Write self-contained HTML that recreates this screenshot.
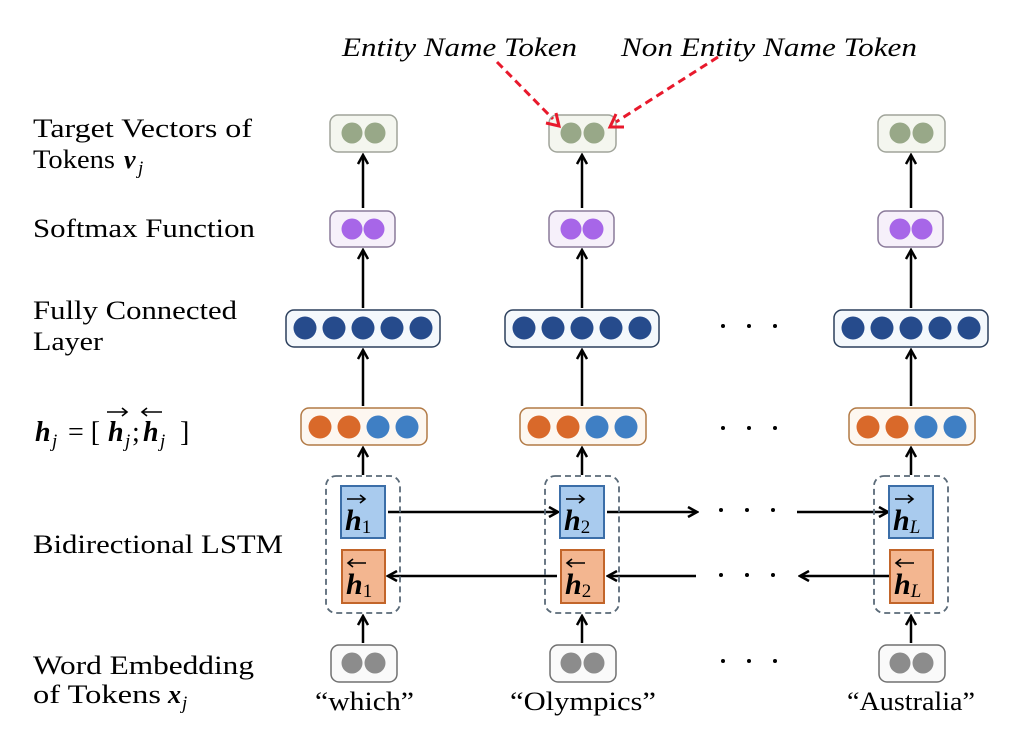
<!DOCTYPE html>
<html><head><meta charset="utf-8"><style>body{margin:0;background:#fff}svg{display:block}</style></head><body>
<svg width="1018" height="750" viewBox="0 0 1018 750" xmlns="http://www.w3.org/2000/svg" font-family="Liberation Serif, serif">
<defs>
<marker id="a" markerWidth="12" markerHeight="12" refX="10" refY="6" orient="auto" markerUnits="userSpaceOnUse"><path d="M1,1 L10,6 L1,11" fill="none" stroke="#000" stroke-width="2.5"/></marker>
<g id="d" fill="#000"><circle cx="723" cy="0" r="2"/><circle cx="749" cy="0" r="2"/><circle cx="775" cy="0" r="2"/></g>
</defs>
<g font-size="26" fill="#000">
<text x="33" y="137" textLength="219" lengthAdjust="spacingAndGlyphs">Target Vectors of</text>
<text x="33" y="168" textLength="82" lengthAdjust="spacingAndGlyphs">Tokens</text>
<text x="124" y="168" font-weight="bold" font-style="italic">v</text><text x="138" y="174" font-style="italic" font-size="19">j</text>
<text x="33" y="237" textLength="222" lengthAdjust="spacingAndGlyphs">Softmax Function</text>
<text x="33" y="319" textLength="204" lengthAdjust="spacingAndGlyphs">Fully Connected</text>
<text x="33" y="350" textLength="70" lengthAdjust="spacingAndGlyphs">Layer</text>
<text x="33" y="553" textLength="250" lengthAdjust="spacingAndGlyphs">Bidirectional LSTM</text>
<text x="33" y="674" textLength="221" lengthAdjust="spacingAndGlyphs">Word Embedding</text>
<text x="33" y="703" textLength="128" lengthAdjust="spacingAndGlyphs">of Tokens</text>
<text x="168" y="703" font-weight="bold" font-style="italic">x</text><text x="182" y="709" font-style="italic" font-size="19">j</text>
<text x="342" y="56" font-style="italic" textLength="235" lengthAdjust="spacingAndGlyphs">Entity Name Token</text>
<text x="621" y="56" font-style="italic" textLength="296" lengthAdjust="spacingAndGlyphs">Non Entity Name Token</text>
<text x="315" y="710" textLength="99" lengthAdjust="spacingAndGlyphs">“which”</text>
<text x="510" y="710" textLength="146" lengthAdjust="spacingAndGlyphs">“Olympics”</text>
<text x="847" y="710" textLength="128" lengthAdjust="spacingAndGlyphs">“Australia”</text>
</g>
<g font-size="28" fill="#000">
<text x="35" y="441" font-weight="bold" font-style="italic">h</text>
<text x="52" y="447" font-style="italic" font-size="19">j</text>
<text x="68" y="441">= [</text>
<text x="108" y="441" font-weight="bold" font-style="italic">h</text>
<text x="125" y="447" font-style="italic" font-size="19">j</text>
<text x="132" y="441">;</text>
<text x="143" y="441" font-weight="bold" font-style="italic">h</text>
<text x="160" y="447" font-style="italic" font-size="19">j</text>
<text x="180" y="441">]</text>
</g>
<g stroke="#000" stroke-width="1.6" fill="none">
<path d="M107 412 h20 M122 408 l5 4 -5 4"/>
<path d="M142 412 h20 M147 408 l-5 4 5 4"/>
</g>
<use href="#d" y="326"/><use href="#d" y="428"/><use href="#d" x="-2" y="510"/><use href="#d" x="-2" y="575"/><use href="#d" y="661"/>
<g stroke-width="2.5" stroke="#000" fill="none">
<line x1="363" y1="208" x2="363" y2="155" marker-end="url(#a)"/>
<line x1="582" y1="208" x2="582" y2="155" marker-end="url(#a)"/>
<line x1="911" y1="208" x2="911" y2="155" marker-end="url(#a)"/>
<line x1="363" y1="308" x2="363" y2="250" marker-end="url(#a)"/>
<line x1="582" y1="308" x2="582" y2="250" marker-end="url(#a)"/>
<line x1="911" y1="308" x2="911" y2="250" marker-end="url(#a)"/>
<line x1="363" y1="406" x2="363" y2="350" marker-end="url(#a)"/>
<line x1="582" y1="406" x2="582" y2="350" marker-end="url(#a)"/>
<line x1="911" y1="406" x2="911" y2="350" marker-end="url(#a)"/>
<line x1="363" y1="475" x2="363" y2="448" marker-end="url(#a)"/>
<line x1="582" y1="475" x2="582" y2="448" marker-end="url(#a)"/>
<line x1="911" y1="475" x2="911" y2="448" marker-end="url(#a)"/>
<line x1="363" y1="643" x2="363" y2="616" marker-end="url(#a)"/>
<line x1="582" y1="643" x2="582" y2="616" marker-end="url(#a)"/>
<line x1="911" y1="643" x2="911" y2="616" marker-end="url(#a)"/>
<line x1="388" y1="512" x2="558" y2="512" marker-end="url(#a)"/>
<line x1="607" y1="512" x2="697" y2="512" marker-end="url(#a)"/>
<line x1="797" y1="512" x2="888" y2="512" marker-end="url(#a)"/>
<line x1="557" y1="576" x2="388" y2="576" marker-end="url(#a)"/>
<line x1="696" y1="576" x2="608" y2="576" marker-end="url(#a)"/>
<line x1="889" y1="576" x2="800" y2="576" marker-end="url(#a)"/>
</g>
<g>
<rect x="330" y="115" width="67" height="37" rx="8" fill="#f4f6ef" stroke="#a0a49a" stroke-width="1.5"/>
<circle cx="352" cy="133" r="10.5" fill="#98a888"/><circle cx="375" cy="133" r="10.5" fill="#98a888"/>
<rect x="330" y="211" width="65" height="36" rx="8" fill="#f6f0fa" stroke="#8a7a9a" stroke-width="1.5"/>
<circle cx="352" cy="229" r="10.5" fill="#a766e8"/><circle cx="374" cy="229" r="10.5" fill="#a766e8"/>
<rect x="286" y="310" width="154" height="37" rx="8" fill="#f4f8fc" stroke="#2b3f5c" stroke-width="1.5"/>
<circle cx="305" cy="328" r="11.5" fill="#264b8c"/><circle cx="334" cy="328" r="11.5" fill="#264b8c"/><circle cx="363" cy="328" r="11.5" fill="#264b8c"/><circle cx="392" cy="328" r="11.5" fill="#264b8c"/><circle cx="421" cy="328" r="11.5" fill="#264b8c"/>
<rect x="301" y="408" width="126" height="37" rx="8" fill="#fdf7f0" stroke="#b27a45" stroke-width="1.5"/>
<circle cx="320" cy="427" r="11.5" fill="#d9692a"/><circle cx="349" cy="427" r="11.5" fill="#d9692a"/><circle cx="378" cy="427" r="11.5" fill="#3f7fc4"/><circle cx="407" cy="427" r="11.5" fill="#3f7fc4"/>
<rect x="326" y="476" width="74" height="137" rx="10" fill="none" stroke="#5a6a78" stroke-width="1.8" stroke-dasharray="6,4"/>
<rect x="341" y="486" width="44" height="52" fill="#a9cbee" stroke="#3b6ea8" stroke-width="2"/>
<rect x="342" y="550" width="43" height="53" fill="#f3b690" stroke="#c2652a" stroke-width="2"/>
<rect x="331" y="645" width="66" height="37" rx="8" fill="#fafafa" stroke="#707070" stroke-width="1.5"/>
<circle cx="352" cy="663" r="10.5" fill="#8c8c8c"/><circle cx="375" cy="663" r="10.5" fill="#8c8c8c"/>
</g>
<g transform="translate(219,0)">
<rect x="330" y="115" width="67" height="37" rx="8" fill="#f4f6ef" stroke="#a0a49a" stroke-width="1.5"/>
<circle cx="352" cy="133" r="10.5" fill="#98a888"/><circle cx="375" cy="133" r="10.5" fill="#98a888"/>
<rect x="330" y="211" width="65" height="36" rx="8" fill="#f6f0fa" stroke="#8a7a9a" stroke-width="1.5"/>
<circle cx="352" cy="229" r="10.5" fill="#a766e8"/><circle cx="374" cy="229" r="10.5" fill="#a766e8"/>
<rect x="286" y="310" width="154" height="37" rx="8" fill="#f4f8fc" stroke="#2b3f5c" stroke-width="1.5"/>
<circle cx="305" cy="328" r="11.5" fill="#264b8c"/><circle cx="334" cy="328" r="11.5" fill="#264b8c"/><circle cx="363" cy="328" r="11.5" fill="#264b8c"/><circle cx="392" cy="328" r="11.5" fill="#264b8c"/><circle cx="421" cy="328" r="11.5" fill="#264b8c"/>
<rect x="301" y="408" width="126" height="37" rx="8" fill="#fdf7f0" stroke="#b27a45" stroke-width="1.5"/>
<circle cx="320" cy="427" r="11.5" fill="#d9692a"/><circle cx="349" cy="427" r="11.5" fill="#d9692a"/><circle cx="378" cy="427" r="11.5" fill="#3f7fc4"/><circle cx="407" cy="427" r="11.5" fill="#3f7fc4"/>
<rect x="326" y="476" width="74" height="137" rx="10" fill="none" stroke="#5a6a78" stroke-width="1.8" stroke-dasharray="6,4"/>
<rect x="341" y="486" width="44" height="52" fill="#a9cbee" stroke="#3b6ea8" stroke-width="2"/>
<rect x="342" y="550" width="43" height="53" fill="#f3b690" stroke="#c2652a" stroke-width="2"/>
<rect x="331" y="645" width="66" height="37" rx="8" fill="#fafafa" stroke="#707070" stroke-width="1.5"/>
<circle cx="352" cy="663" r="10.5" fill="#8c8c8c"/><circle cx="375" cy="663" r="10.5" fill="#8c8c8c"/>
</g>
<g transform="translate(548,0)">
<rect x="330" y="115" width="67" height="37" rx="8" fill="#f4f6ef" stroke="#a0a49a" stroke-width="1.5"/>
<circle cx="352" cy="133" r="10.5" fill="#98a888"/><circle cx="375" cy="133" r="10.5" fill="#98a888"/>
<rect x="330" y="211" width="65" height="36" rx="8" fill="#f6f0fa" stroke="#8a7a9a" stroke-width="1.5"/>
<circle cx="352" cy="229" r="10.5" fill="#a766e8"/><circle cx="374" cy="229" r="10.5" fill="#a766e8"/>
<rect x="286" y="310" width="154" height="37" rx="8" fill="#f4f8fc" stroke="#2b3f5c" stroke-width="1.5"/>
<circle cx="305" cy="328" r="11.5" fill="#264b8c"/><circle cx="334" cy="328" r="11.5" fill="#264b8c"/><circle cx="363" cy="328" r="11.5" fill="#264b8c"/><circle cx="392" cy="328" r="11.5" fill="#264b8c"/><circle cx="421" cy="328" r="11.5" fill="#264b8c"/>
<rect x="301" y="408" width="126" height="37" rx="8" fill="#fdf7f0" stroke="#b27a45" stroke-width="1.5"/>
<circle cx="320" cy="427" r="11.5" fill="#d9692a"/><circle cx="349" cy="427" r="11.5" fill="#d9692a"/><circle cx="378" cy="427" r="11.5" fill="#3f7fc4"/><circle cx="407" cy="427" r="11.5" fill="#3f7fc4"/>
<rect x="326" y="476" width="74" height="137" rx="10" fill="none" stroke="#5a6a78" stroke-width="1.8" stroke-dasharray="6,4"/>
<rect x="341" y="486" width="44" height="52" fill="#a9cbee" stroke="#3b6ea8" stroke-width="2"/>
<rect x="342" y="550" width="43" height="53" fill="#f3b690" stroke="#c2652a" stroke-width="2"/>
<rect x="331" y="645" width="66" height="37" rx="8" fill="#fafafa" stroke="#707070" stroke-width="1.5"/>
<circle cx="352" cy="663" r="10.5" fill="#8c8c8c"/><circle cx="375" cy="663" r="10.5" fill="#8c8c8c"/>
</g>
<g stroke="#e8192c" stroke-width="3" fill="none">
<line x1="497" y1="62" x2="553" y2="119" stroke-dasharray="8,5"/>
<path d="M546 123 L559 126 L556 113"/>
<line x1="718" y1="57" x2="616" y2="122" stroke-dasharray="8,5"/>
<path d="M616 114 L610 127 L624 127"/>
</g>
<g font-size="30" font-weight="bold" font-style="italic" fill="#000">
<text x="345" y="530">h<tspan font-size="19" font-weight="normal" font-style="normal" dy="3">1</tspan></text>
<text x="346" y="594">h<tspan font-size="19" font-weight="normal" font-style="normal" dy="3">1</tspan></text>
<text x="564" y="530">h<tspan font-size="19" font-weight="normal" font-style="normal" dy="3">2</tspan></text>
<text x="565" y="594">h<tspan font-size="19" font-weight="normal" font-style="normal" dy="3">2</tspan></text>
<text x="893" y="530">h<tspan font-size="19" font-weight="normal" dy="3">L</tspan></text>
<text x="894" y="594">h<tspan font-size="19" font-weight="normal" dy="3">L</tspan></text>
</g>
<g stroke="#000" stroke-width="1.6" fill="none">
<path d="M347 499 h18 M360 495 l5 4 -5 4"/><path d="M348 563 h18 M353 559 l-5 4 5 4"/>
<path d="M566 499 h18 M579 495 l5 4 -5 4"/><path d="M567 563 h18 M572 559 l-5 4 5 4"/>
<path d="M895 499 h18 M908 495 l5 4 -5 4"/><path d="M896 563 h18 M901 559 l-5 4 5 4"/>
</g>
</svg>
</body></html>
